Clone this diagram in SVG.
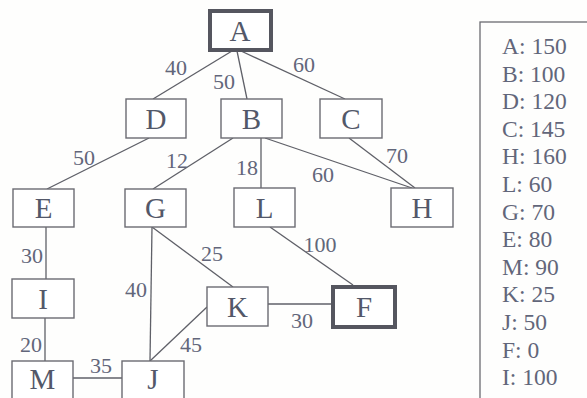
<svg xmlns="http://www.w3.org/2000/svg" width="587" height="398" viewBox="0 0 587 398">
  <style>
    .box { fill: #ffffff; stroke: #6b6b72; stroke-width: 1.4; }
    .goal { fill: #ffffff; stroke: #55565f; stroke-width: 4; }
    .edge { stroke: #5f6068; stroke-width: 1.3; fill: none; }
    .node { font-family: "Liberation Serif", "DejaVu Serif", serif; font-size: 29px; fill: #535869; text-anchor: middle; }
    .w { font-family: "Liberation Serif", "DejaVu Serif", serif; font-size: 22px; fill: #62667a; text-anchor: middle; }
    .h { font-family: "Liberation Serif", "DejaVu Serif", serif; font-size: 23.5px; fill: #62667a; }
  </style>
  <rect width="587" height="398" fill="#fefefd"/>

  <!-- connectors with weights -->
  <g id="edges">
    <line class="edge" x1="232" y1="51" x2="153" y2="99"/>
    <line class="edge" x1="237" y1="51" x2="247" y2="99"/>
    <line class="edge" x1="241" y1="51" x2="345" y2="99"/>
    <line class="edge" x1="149" y1="138" x2="47" y2="189"/>
    <line class="edge" x1="233" y1="138" x2="153" y2="189"/>
    <line class="edge" x1="261" y1="138" x2="261" y2="188"/>
    <line class="edge" x1="265" y1="138" x2="412" y2="188"/>
    <line class="edge" x1="349" y1="138" x2="415" y2="188"/>
    <line class="edge" x1="46" y1="227" x2="46" y2="279"/>
    <line class="edge" x1="45" y1="318" x2="45" y2="361"/>
    <line class="edge" x1="152" y1="227" x2="150" y2="361"/>
    <line class="edge" x1="152" y1="227" x2="233" y2="287"/>
    <line class="edge" x1="207" y1="307" x2="150" y2="361"/>
    <line class="edge" x1="268" y1="304" x2="331" y2="304"/>
    <line class="edge" x1="270" y1="227" x2="353" y2="285"/>
    <line class="edge" x1="73" y1="378" x2="122" y2="378"/>

    <text class="w" x="176" y="75">40</text>
    <text class="w" x="224" y="89">50</text>
    <text class="w" x="304" y="72">60</text>
    <text class="w" x="84" y="165">50</text>
    <text class="w" x="177" y="168">12</text>
    <text class="w" x="247" y="175">18</text>
    <text class="w" x="323" y="182">60</text>
    <text class="w" x="397" y="163">70</text>
    <text class="w" x="320" y="252">100</text>
    <text class="w" x="212" y="261">25</text>
    <text class="w" x="32" y="263">30</text>
    <text class="w" x="136" y="297">40</text>
    <text class="w" x="31" y="352">20</text>
    <text class="w" x="101" y="373">35</text>
    <text class="w" x="191" y="352">45</text>
    <text class="w" x="302" y="328">30</text>
  </g>

  <g id="A"><rect class="goal" x="210" y="11" width="61" height="39"/><text class="node" x="240" y="41">A</text></g>
  <g id="D"><rect class="box" x="126" y="99" width="60" height="39"/><text class="node" x="156" y="129">D</text></g>
  <g id="B"><rect class="box" x="221" y="99" width="61" height="39"/><text class="node" x="251.5" y="129">B</text></g>
  <g id="C"><rect class="box" x="320" y="99" width="62" height="39"/><text class="node" x="351" y="129">C</text></g>
  <g id="E"><rect class="box" x="13" y="189" width="61" height="38"/><text class="node" x="43.5" y="218">E</text></g>
  <g id="G"><rect class="box" x="125" y="189" width="61" height="38"/><text class="node" x="155.5" y="218">G</text></g>
  <g id="L"><rect class="box" x="234" y="188" width="61" height="39"/><text class="node" x="264.5" y="218">L</text></g>
  <g id="H"><rect class="box" x="391" y="188" width="62" height="39"/><text class="node" x="422" y="218">H</text></g>
  <g id="I"><rect class="box" x="12" y="279" width="62" height="39"/><text class="node" x="43" y="309">I</text></g>
  <g id="K"><rect class="box" x="207" y="287" width="61" height="39"/><text class="node" x="237.5" y="317">K</text></g>
  <g id="F"><rect class="goal" x="333" y="287" width="62" height="40"/><text class="node" x="364" y="317">F</text></g>
  <g id="M"><rect class="box" x="12" y="361" width="61" height="39"/><text class="node" x="42.5" y="389">M</text></g>
  <g id="J"><rect class="box" x="122" y="361" width="62" height="39"/><text class="node" x="153" y="389">J</text></g>

  <!-- heuristic table -->
  <g id="heuristics">
    <rect x="480" y="22" width="115" height="390" fill="none" stroke="#6b6b72" stroke-width="1.3"/>
    <text class="h" x="502" y="54">A: 150</text>
    <text class="h" x="502" y="81.6">B: 100</text>
    <text class="h" x="502" y="109.2">D: 120</text>
    <text class="h" x="502" y="136.8">C: 145</text>
    <text class="h" x="502" y="164.4">H: 160</text>
    <text class="h" x="502" y="192">L: 60</text>
    <text class="h" x="502" y="219.6">G: 70</text>
    <text class="h" x="502" y="247.2">E: 80</text>
    <text class="h" x="502" y="274.8">M: 90</text>
    <text class="h" x="502" y="302.4">K: 25</text>
    <text class="h" x="502" y="330">J: 50</text>
    <text class="h" x="502" y="357.6">F: 0</text>
    <text class="h" x="502" y="385.2">I: 100</text>
  </g>
</svg>
